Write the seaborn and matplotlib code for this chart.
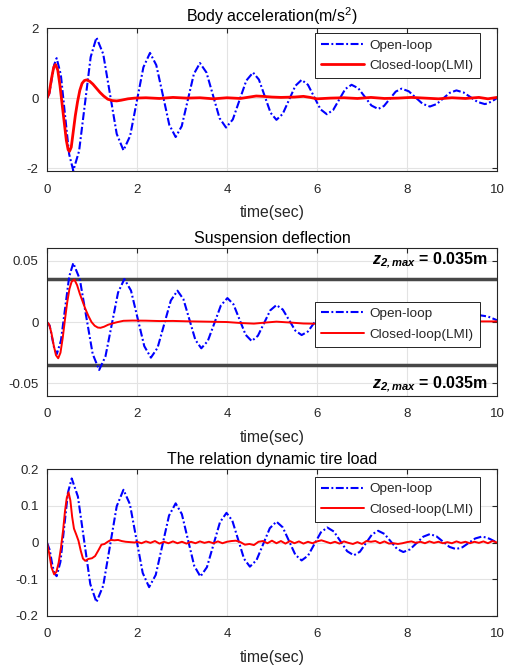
import matplotlib
matplotlib.use('Agg')
import matplotlib.pyplot as plt
import seaborn as sns

# ---- data ----
# Body acceleration (m/s^2)
t_acc_open = [0, 0.05, 0.10, 0.16, 0.215, 0.308, 0.40, 0.493, 0.585, 0.714, 0.843, 0.971, 1.10,
              1.25, 1.40, 1.55, 1.70, 1.848, 1.995, 2.143, 2.29, 2.43, 2.575, 2.718, 2.86,
              2.995, 3.13, 3.265, 3.40, 3.545, 3.69, 3.835, 3.98, 4.13, 4.28, 4.43, 4.58,
              4.71, 4.84, 4.97, 5.10, 5.24, 5.38, 5.52, 5.66, 5.80, 5.94, 6.08, 6.22,
              6.36, 6.495, 6.63, 6.77, 6.92, 7.065, 7.21, 7.36, 7.49, 7.62, 7.75, 7.88,
              8.04, 8.195, 8.35, 8.51, 8.66, 8.805, 8.95, 9.10, 9.26, 9.415, 9.57, 9.73,
              9.80, 9.87, 9.94, 10.0]
acc_open = [0, 0.12, 0.50, 0.95, 1.14, 0.67, -0.465, -1.60, -2.07, -1.51, -0.17, 1.17, 1.73,
            1.26, 0.12, -1.02, -1.49, -1.08, -0.10, 0.88, 1.29, 0.94, 0.09, -0.76, -1.11,
            -0.80, -0.055, 0.69, 1.00, 0.73, 0.08, -0.57, -0.84, -0.61, -0.055, 0.50, 0.73,
            0.53, 0.055, -0.42, -0.62, -0.45, -0.05, 0.35, 0.52, 0.38, 0.03, -0.32, -0.46,
            -0.34, -0.04, 0.26, 0.38, 0.28, 0.035, -0.21, -0.31, -0.225, -0.02, 0.185, 0.27,
            0.195, 0.015, -0.165, -0.24, -0.17, -0.01, 0.15, 0.22, 0.16, 0.025, -0.11, -0.17,
            -0.15, -0.10, -0.05, 0.0]
t_acc_lmi = [0, 0.05, 0.10, 0.15, 0.19, 0.24, 0.29, 0.33, 0.38, 0.43, 0.47, 0.50, 0.54, 0.58,
             0.63, 0.68, 0.73, 0.78, 0.83, 0.88, 0.95, 1.02, 1.10, 1.18, 1.26, 1.35, 1.45,
             1.55, 1.65, 1.80, 1.95, 2.2, 2.5, 2.8, 3.1, 3.4, 3.7, 4.0, 4.3, 4.5, 4.65, 4.8,
             5.0, 5.2, 5.5, 5.7, 5.85, 6.0, 6.3, 6.6, 6.9, 7.2, 7.5, 7.8, 8.1, 8.4, 8.7, 9.0,
             9.3, 9.6, 9.8, 10.0]
acc_lmi = [0, 0.15, 0.55, 0.88, 0.96, 0.80, 0.35, -0.10, -0.65, -1.20, -1.47, -1.52, -1.40,
           -1.00, -0.50, -0.10, 0.22, 0.42, 0.50, 0.52, 0.48, 0.40, 0.28, 0.16, 0.06, -0.03,
           -0.07, -0.08, -0.06, -0.02, 0.0, 0.01, -0.01, 0.02, 0.0, 0.01, -0.02, 0.01, -0.01,
           0.03, 0.06, 0.05, 0.03, 0.02, 0.03, 0.05, 0.02, -0.02, 0.0, 0.01, -0.01, 0.02,
           -0.01, 0.0, 0.02, 0.0, -0.02, 0.01, -0.01, 0.02, -0.02, 0.02]

# Suspension deflection (m)
t_def_open = [0, 0.06, 0.11, 0.165, 0.22, 0.311, 0.4025, 0.494, 0.585, 0.729, 0.8725, 1.016,
              1.16, 1.30, 1.44, 1.58, 1.72, 1.8675, 2.015, 2.1625, 2.31, 2.4575, 2.605,
              2.7525, 2.90, 3.0325, 3.165, 3.2975, 3.43, 3.575, 3.72, 3.865, 4.01, 4.145,
              4.28, 4.415, 4.55, 4.6875, 4.825, 4.9625, 5.10, 5.24, 5.38, 5.52, 5.66, 5.80,
              5.94, 6.08, 6.22, 6.36, 6.50, 6.64, 6.78, 6.92, 7.06, 7.20, 7.34, 7.48, 7.62,
              7.76, 7.90, 8.04, 8.175, 8.31, 8.45, 8.59, 8.735, 8.88, 9.02, 9.17, 9.32, 9.47,
              9.62, 9.80, 10.0]
def_open = [0, -0.003, -0.012, -0.022, -0.026, -0.015, 0.011, 0.037, 0.048, 0.035, 0.0045,
            -0.026, -0.039, -0.028, -0.002, 0.024, 0.035, 0.0256, 0.003, -0.0196, -0.029,
            -0.021, -0.0018, 0.0175, 0.0255, 0.0186, 0.0021, -0.0145, -0.0214, -0.0154,
            -0.001, 0.0135, 0.0195, 0.0144, 0.002, -0.0104, -0.0155, -0.0112, -0.0009,
            0.0095, 0.0138, 0.0102, 0.0016, -0.007, -0.0106, -0.0077, -0.0006, 0.0066,
            0.0095, 0.0069, 0.0008, -0.0054, -0.008, -0.0058, -0.0005, 0.0048, 0.007,
            0.0051, 0.0005, -0.0041, -0.006, -0.0044, -0.0005, 0.0034, 0.005, 0.0036,
            0.0003, -0.0031, -0.0045, -0.003, 0.0005, 0.004, 0.0055, 0.0045, 0.0015]
t_def_lmi = [0, 0.05, 0.10, 0.15, 0.20, 0.25, 0.30, 0.35, 0.40, 0.45, 0.50, 0.55, 0.61, 0.67,
             0.73, 0.79, 0.85, 0.92, 0.99, 1.06, 1.13, 1.19, 1.27, 1.36, 1.45, 1.55, 1.70,
             1.90, 2.2, 2.5, 2.8, 3.1, 3.4, 3.7, 4.0, 4.3, 4.6, 4.9, 5.1, 5.4, 5.7, 6.0, 6.3,
             6.6, 7.0, 7.5, 8.0, 8.5, 9.0, 9.5, 10.0]
def_lmi = [0, -0.002, -0.009, -0.019, -0.027, -0.0295, -0.025, -0.013, 0.002, 0.016, 0.027,
           0.033, 0.0345, 0.030, 0.023, 0.017, 0.011, 0.005, 0.0, -0.003, -0.0045, -0.0047,
           -0.0038, -0.0022, -0.0012, -0.0002, 0.0010, 0.0012, 0.0011, 0.0008, 0.0009,
           0.0006, 0.0004, 0.0002, 0.0, -0.0008, -0.0013, -0.0003, 0.0003, -0.0004, -0.0012,
           -0.0014, -0.0008, -0.0003, 0.0, 0.0004, 0.0006, 0.0005, 0.0006, 0.0005, 0.0005]
z2_max = 0.035

# Relative dynamic tire load
t_tire_open = [0, 0.06, 0.11, 0.16, 0.215, 0.299, 0.3825, 0.466, 0.55, 0.6875, 0.825, 0.9625,
               1.10, 1.25, 1.40, 1.55, 1.70, 1.8425, 1.985, 2.1275, 2.27, 2.4175, 2.565,
               2.7125, 2.86, 2.9975, 3.135, 3.2725, 3.41, 3.555, 3.70, 3.845, 3.99, 4.12,
               4.25, 4.38, 4.51, 4.6575, 4.805, 4.9525, 5.10, 5.24, 5.38, 5.52, 5.66, 5.8025,
               5.945, 6.0875, 6.23, 6.3775, 6.525, 6.6725, 6.82, 6.955, 7.09, 7.225, 7.36,
               7.50, 7.64, 7.78, 7.92, 8.0675, 8.215, 8.3625, 8.51, 8.655, 8.80, 8.945, 9.09,
               9.2325, 9.375, 9.5175, 9.66, 9.75, 9.84, 9.92, 10.0]
tire_open = [0, -0.02, -0.055, -0.083, -0.092, -0.053, 0.0415, 0.136, 0.175, 0.1255, 0.006,
             -0.1135, -0.163, -0.118, -0.0095, 0.099, 0.144, 0.105, 0.011, -0.083, -0.122,
             -0.0885, -0.0075, 0.0735, 0.107, 0.0777, 0.007, -0.0637, -0.093, -0.0675,
             -0.006, 0.0555, 0.081, 0.0595, 0.0075, -0.0445, -0.066, -0.048, -0.0045, 0.039,
             0.057, 0.0415, 0.004, -0.0335, -0.049, -0.0358, -0.004, 0.0278, 0.041, 0.0299,
             0.003, -0.0239, -0.035, -0.0252, -0.0015, 0.0222, 0.032, 0.0235, 0.003,
             -0.0175, -0.026, -0.0188, -0.0015, 0.0158, 0.023, 0.017, 0.0025, -0.012,
             -0.018, -0.013, -0.001, 0.011, 0.016, 0.014, 0.010, 0.005, 0.0]
t_tire_lmi = [0, 0.05, 0.10, 0.16, 0.21, 0.26, 0.31, 0.36, 0.40, 0.44, 0.48, 0.52, 0.56, 0.60,
              0.65, 0.70, 0.75, 0.80, 0.85, 0.92, 1.00, 1.07, 1.14, 1.21, 1.28, 1.35, 1.42,
              1.50, 1.58, 1.66, 1.75, 1.85, 1.95,
              2.0, 2.1, 2.2, 2.3, 2.4, 2.5, 2.6, 2.7, 2.8, 2.9, 3.0, 3.1, 3.2, 3.3, 3.4, 3.5,
              3.6, 3.7, 3.8, 3.9, 4.0, 4.1, 4.2, 4.3, 4.4, 4.5, 4.6, 4.7, 4.8, 4.9, 5.0, 5.1,
              5.2, 5.3, 5.4, 5.5, 5.6, 5.7, 5.8, 5.9, 6.0, 6.1, 6.2, 6.3, 6.4, 6.5, 6.6, 6.7,
              6.8, 6.9, 7.0, 7.1, 7.2, 7.3, 7.4, 7.5, 7.6, 7.7, 7.8, 7.9, 8.0, 8.1, 8.2, 8.3,
              8.4, 8.5, 8.6, 8.7, 8.8, 8.9, 9.0, 9.1, 9.2, 9.3, 9.4, 9.5, 9.6, 9.7, 9.8, 9.9,
              10.0]
tire_lmi = [0, -0.03, -0.068, -0.087, -0.080, -0.055, -0.015, 0.035, 0.085, 0.122, 0.137,
            0.115, 0.070, 0.038, 0.022, 0.005, -0.022, -0.044, -0.050, -0.045, -0.043,
            -0.037, -0.022, -0.006, -0.004, 0.002, 0.007, 0.006, 0.007, 0.004, 0.002, 0.001,
            0.0,
            0.002, -0.002, 0.003, -0.001, 0.004, -0.003, 0.002, -0.002, 0.003, -0.002, 0.002,
            -0.003, 0.002, -0.002, 0.003, -0.001, 0.002, -0.002, 0.003, -0.002, 0.002, 0.004,
            0.005, 0.001, -0.006, -0.004, -0.007, 0.002, 0.004, -0.002, 0.005, -0.002, 0.004,
            -0.003, 0.004, -0.002, 0.003, -0.003, 0.002, -0.002, 0.003, 0.006, 0.002, -0.002,
            0.002, -0.003, 0.003, -0.001, -0.004, 0.001, -0.004, 0.004, 0.002, 0.004, -0.002,
            0.003, -0.003, -0.002, -0.004, -0.002, 0.001, 0.003, -0.001, 0.002, -0.002, 0.003,
            -0.001, 0.002, -0.002, 0.001, -0.002, 0.003, -0.001, 0.002, -0.002, 0.002, -0.001,
            0.003, -0.002, 0.004, 0.0]

titles = ['Body acceleration(m/s$^2$)', 'Suspension deflection', 'The relation dynamic tire load']
legend_labels = ['Open-loop', 'Closed-loop(LMI)']
x_ticks = [0, 2, 4, 6, 8, 10]
y_ticks = [[-2, 0, 2], [-0.05, 0, 0.05], [-0.2, -0.1, 0, 0.1, 0.2]]
y_limits = [(-2.08, 2), (-0.06, 0.06), (-0.2, 0.2)]

# ---- style ----
sns.set_theme(style="whitegrid")
plt.rcParams['font.family'] = ['Liberation Sans', 'DejaVu Sans']
plt.rcParams['mathtext.fontset'] = 'custom'
plt.rcParams['mathtext.rm'] = 'Liberation Sans'
plt.rcParams['mathtext.it'] = 'Liberation Sans:italic'
plt.rcParams['mathtext.bf'] = 'Liberation Sans:bold'
plt.rcParams['mathtext.bfit'] = 'Liberation Sans:italic:bold'
plt.rcParams['axes.unicode_minus'] = False

fig = plt.figure(figsize=(5.05, 6.67), dpi=100)
positions = [[0.093, 0.7436, 0.891, 0.2144],
             [0.093, 0.4067, 0.891, 0.2210],
             [0.093, 0.0769, 0.891, 0.2195]]
series = [(t_acc_open, acc_open, t_acc_lmi, acc_lmi, 2.0),
          (t_def_open, def_open, t_def_lmi, def_lmi, 1.4),
          (t_tire_open, tire_open, t_tire_lmi, tire_lmi, 1.4)]
legend_anchor = [(0.962, 0.965), (0.962, 0.638), (0.962, 0.949)]
dashdot = (0, (3.8, 1.2, 0.9, 1.2))

axes = []
for i, (pos, (to, yo, tl, yl, red_lw)) in enumerate(zip(positions, series)):
    ax = fig.add_axes(pos)
    axes.append(ax)
    ax.set_facecolor('white')
    if i == 1:
        ax.axhline(z2_max, color='#474747', lw=2.5, zorder=1.5)
        ax.axhline(-z2_max, color='#474747', lw=2.5, zorder=1.5)
    sns.lineplot(x=to, y=yo, ax=ax, color='#0000ff', lw=1.5, linestyle=dashdot,
                 label=legend_labels[0], sort=False, errorbar=None)
    sns.lineplot(x=tl, y=yl, ax=ax, color='#ff0000', lw=red_lw, linestyle='-',
                 label=legend_labels[1], sort=False, errorbar=None)
    ax.set_xlim(0, 10)
    ax.set_ylim(*y_limits[i])
    ax.set_xticks(x_ticks)
    ax.set_yticks(y_ticks[i])
    ax.set_yticklabels(['%g' % v for v in y_ticks[i]])
    ax.grid(True, color='#e3e3e3', lw=0.8)
    for s in ax.spines.values():
        s.set_color('#262626')
        s.set_linewidth(0.8)
    ax.tick_params(direction='in', length=3.5, width=0.8, color='#262626',
                   top=True, right=True, labelsize=9.5, labelcolor='#262626')
    ax.tick_params(axis='x', pad=9)
    ax.tick_params(axis='y', pad=6)
    ax.set_title(titles[i], fontsize=11.5, pad=4, color='black')
    ax.set_xlabel('time(sec)', fontsize=11.3, labelpad=7, color='#262626')
    ax.set_ylabel('')
    leg = ax.legend(loc='upper right', bbox_to_anchor=legend_anchor[i], borderaxespad=0,
                    fontsize=9.7, fancybox=False, framealpha=1, edgecolor='black',
                    handlelength=3.2, handletextpad=0.4, borderpad=0.45, labelspacing=0.6)
    leg.get_frame().set_linewidth(0.6)
    leg.set_zorder(5)

ax = axes[1]
ax.text(9.8, 0.0477, r'$\mathbfit{z}_{\mathbfit{2,max}}$ = 0.035m', ha='right', va='baseline',
        fontsize=11.5, fontweight='bold', color='black')
ax.text(9.8, -0.0539, r'$\mathbfit{z}_{\mathbfit{2,max}}$ = 0.035m', ha='right', va='baseline',
        fontsize=11.5, fontweight='bold', color='black')

fig.savefig('out.png', dpi=100)
